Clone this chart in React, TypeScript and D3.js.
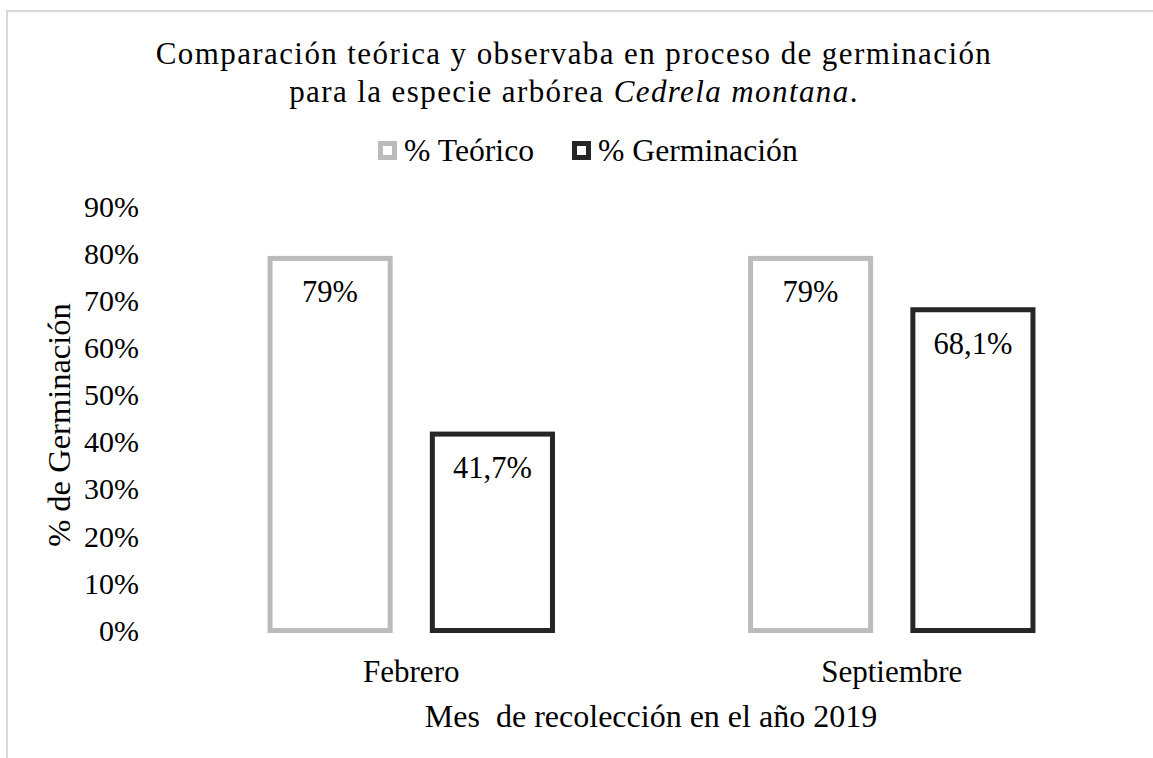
import React from 'react';
import * as d3 from 'd3';

const months = ['Febrero', 'Septiembre'];
const seriesNames = ['% Teórico', '% Germinación'];
const teorico = [0.79, 0.79];
const germinacion = [0.417, 0.681];
const valueLabels = [['79%', '41,7%'], ['79%', '68,1%']];
const yTicks = [0, 0.1, 0.2, 0.3, 0.4, 0.5, 0.6, 0.7, 0.8, 0.9];

const W = 1153;
const H = 758;
const FONT = '"Liberation Serif", "Times New Roman", serif';
const colors = ['#bbbbbb', '#262626'];

function App() {
  // plot area
  const x0 = d3.scaleBand().domain(months).range([171, 1132]).padding(0);
  const x1 = d3.scaleBand().domain(seriesNames).range([0, x0.bandwidth()])
    .paddingInner(0.26).paddingOuter(0.61);
  const y = d3.scaleLinear().domain([0, 0.9]).range([630.5, 206.6]);

  const rows = months.map((m, i) => ({ month: m, values: [teorico[i], germinacion[i]] }));
  const pct = d3.format('.0%');

  return (
    <svg width={W} height={H} style={{ display: 'block', position: 'absolute', left: 0, top: 0 }}>
      <rect x={0} y={0} width={W} height={H} fill="#fff" />
      {/* chart frame */}
      <path d={`M7,${H} V11 H${W}`} fill="none" stroke="#d9d9d9" strokeWidth={2} />

      {/* title */}
      <g fontFamily={FONT} fontSize={31} fill="#000" textAnchor="middle" letterSpacing={1.4}>
        <text x={574} y={64}>Comparación teórica y observaba en proceso de germinación</text>
        <text x={574} y={102}>
          para la especie arbórea <tspan fontStyle="italic">Cedrela montana</tspan>.
        </text>
      </g>

      {/* legend */}
      <g fontFamily={FONT} fontSize={31.7}>
        {seriesNames.map((s, i) => (
          <g key={s} transform={`translate(${378 + i * 194},141)`}>
            <rect x={2.5} y={2.5} width={14} height={14} fill="#fff" stroke={colors[i]} strokeWidth={5} />
            <text x={26} y={19.5}>{s}</text>
          </g>
        ))}
      </g>

      {/* y axis */}
      <g fontFamily={FONT} fontSize={30} textAnchor="end">
        {yTicks.map(t => (
          <text key={t} x={139} y={y(t)} dy="0.34em">{pct(t)}</text>
        ))}
      </g>
      <text
        transform={`translate(70,${425}) rotate(-90)`}
        textAnchor="middle"
        fontFamily={FONT}
        fontSize={32.5}
      >% de Germinación</text>

      {/* bars */}
      {rows.map((r, i) => (
        <g key={r.month} transform={`translate(${x0(r.month)},0)`}>
          {r.values.map((v, j) => (
            <g key={j}>
              <rect
                x={x1(seriesNames[j])}
                y={y(v)}
                width={x1.bandwidth()}
                height={y(0) - y(v)}
                fill="#fff"
                stroke={colors[j]}
                strokeWidth={5}
              />
              <text
                x={(x1(seriesNames[j]) as number) + x1.bandwidth() / 2}
                y={y(v) + 44}
                textAnchor="middle"
                fontFamily={FONT}
                fontSize={30.5}
              >{valueLabels[i][j]}</text>
            </g>
          ))}
        </g>
      ))}

      {/* x axis labels */}
      <g fontFamily={FONT} textAnchor="middle">
        {months.map(m => (
          <text key={m} x={(x0(m) as number) + x0.bandwidth() / 2} y={682} fontSize={31}>{m}</text>
        ))}
        <text x={651} y={727} fontSize={32} xmlSpace="preserve">Mes  de recolección en el año 2019</text>
      </g>
    </svg>
  );
}

export default App;
